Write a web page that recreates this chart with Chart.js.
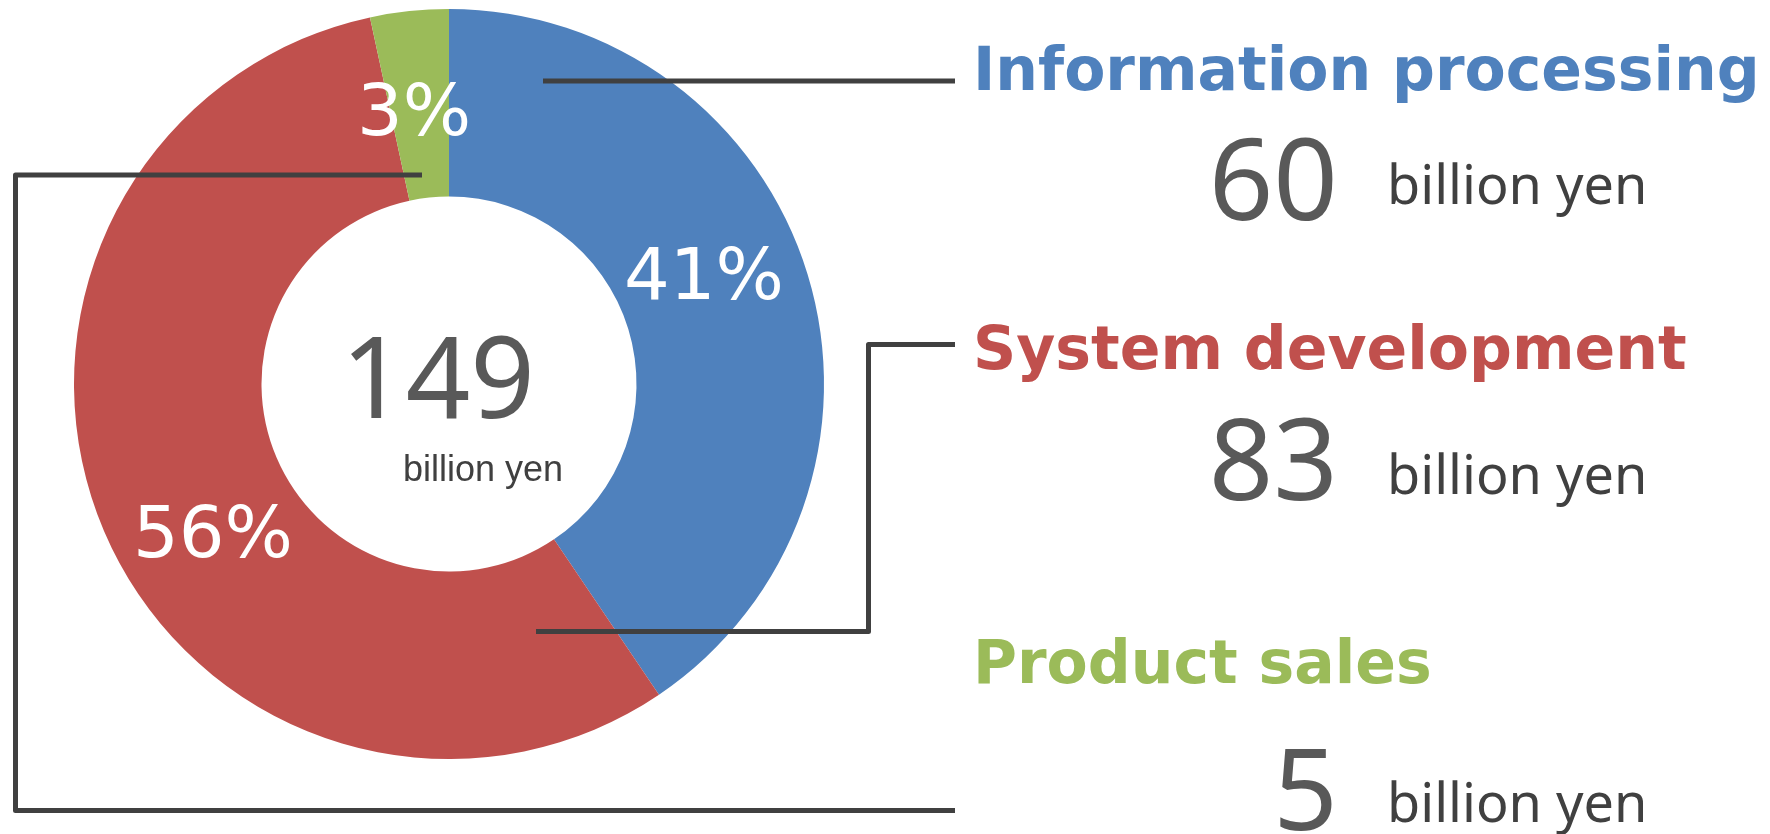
<!DOCTYPE html>
<html>
<head>
<meta charset="utf-8">
<script src="https://cdn.jsdelivr.net/npm/chart.js@4/dist/chart.umd.min.js"></script>
<style>
  html, body { margin: 0; padding: 0; background: #ffffff; }
  #wrap { width: 1770px; height: 834px; position: relative; }
  canvas { display: block; }
</style>
</head>
<body>
<div id="wrap"><canvas id="c" width="1770" height="834"></canvas></div>
<script>
// ---- Data ----
const categories = ["Information processing", "System development", "Product sales"];
const values = [60, 83, 5];                 // billion yen
const percentLabels = ["41%", "56%", "3%"];
const totalLabel = "149";
const unitLabel = "billion yen";
const colors = ["#4F81BD", "#C0504D", "#9BBB59"];

// ---- Layout (pixel positions of annotations) ----
const titleLeft = 973;
const titleBaselines = [90, 369, 683];
const numberRight = 1338;
const numberBaselines = [220, 500, 830];
const unitLeft = 1387;
const unitBaselines = [204, 494, 822];
const pctPositions = [[704, 299], [213, 557], [414, 135]]; // centre x, baseline y
const leaderLines = [
  [[543, 81], [955, 81]],
  [[536, 631.5], [868.5, 631.5], [868.5, 344.5], [955, 344.5]],
  [[422, 175], [15.5, 175], [15.5, 810.5], [955, 810.5]]
];

const annotate = {
  id: 'annotate',
  afterDraw(chart) {
    const ctx = chart.ctx;
    ctx.save();
    // percentage labels inside the ring
    ctx.fillStyle = '#ffffff';
    ctx.font = '72px "DejaVu Sans"';
    ctx.textAlign = 'center';
    ctx.textBaseline = 'alphabetic';
    percentLabels.forEach((t, i) => ctx.fillText(t, pctPositions[i][0], pctPositions[i][1]));

    // centre total
    const meta = chart.getDatasetMeta(0);
    const arc = meta.data[0];
    const cx = arc.x, cy = arc.y;
    ctx.fillStyle = '#595959';
    ctx.font = '113px "Noto Sans"';
    ctx.textAlign = 'center';
    ctx.fillText(totalLabel, cx - 11, cy + 34);
    ctx.fillStyle = '#404040';
    ctx.font = '36px "Liberation Sans", Arial, sans-serif';
    ctx.textAlign = 'left';
    ctx.fillText(unitLabel, cx - 46, cy + 97);

    // leader lines
    ctx.strokeStyle = '#404040';
    ctx.lineWidth = 5;
    ctx.lineJoin = 'round';
    ctx.lineCap = 'butt';
    leaderLines.forEach(pts => {
      ctx.beginPath();
      pts.forEach((p, j) => j ? ctx.lineTo(p[0], p[1]) : ctx.moveTo(p[0], p[1]));
      ctx.stroke();
    });

    // right-hand legend text
    categories.forEach((name, i) => {
      ctx.fillStyle = colors[i];
      ctx.font = 'bold 60px "DejaVu Sans"';
      ctx.textAlign = 'left';
      ctx.fillText(name, titleLeft, titleBaselines[i]);

      ctx.fillStyle = '#595959';
      ctx.font = '113px "Noto Sans"';
      ctx.textAlign = 'right';
      ctx.fillText(String(values[i]), numberRight, numberBaselines[i]);

      ctx.fillStyle = '#404040';
      ctx.font = '54px "Noto Sans"';
      ctx.textAlign = 'left';
      ctx.fillText(unitLabel, unitLeft, unitBaselines[i]);
    });
    ctx.restore();
  }
};

new Chart(document.getElementById('c'), {
  type: 'doughnut',
  data: {
    labels: categories,
    datasets: [{
      data: values,
      backgroundColor: colors,
      borderWidth: 0,
      hoverOffset: 0
    }]
  },
  options: {
    responsive: false,
    devicePixelRatio: 1,
    animation: false,
    events: [],
    cutout: '50%',
    rotation: 0,
    layout: { padding: { left: 74, right: 946, top: 9, bottom: 75 } },
    plugins: {
      legend: { display: false },
      tooltip: { enabled: false },
      title: { display: false }
    }
  },
  plugins: [annotate]
});
</script>
</body>
</html>
